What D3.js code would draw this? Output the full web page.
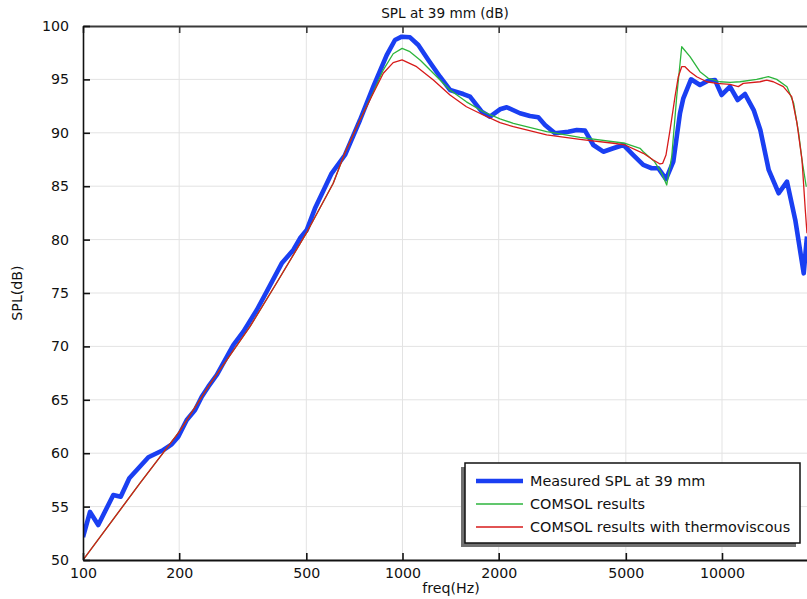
<!DOCTYPE html>
<html>
<head>
<meta charset="utf-8">
<script src="https://cdn.jsdelivr.net/npm/d3@7/dist/d3.min.js"></script>
<style>
  html, body { margin: 0; padding: 0; background: #fff; }
  svg { display: block; font-family: "DejaVu Sans", sans-serif; }
</style>
</head>
<body>
<svg id="chart" width="807" height="599"></svg>
<script>
// Measured SPL at 39 mm (frequency in Hz, level in dB)
const measuredFreq = [100, 105.2, 111.6, 124.4, 131.2, 139.6, 160.2, 178.4, 189.5, 198.7,
  211.2, 224.2, 235.3, 246.7, 262.1, 295.4, 317.6, 349.9, 375.8, 418.8,
  455.2, 477.7, 501.5, 532.3, 600.2, 660.7, 736.2, 810.3, 892.4, 947.3,
  994.3, 1055.6, 1120.7, 1204.5, 1310.4, 1408.2, 1550, 1627, 1770, 1879,
  2019, 2120, 2332, 2506, 2661, 2793, 3001, 3304, 3510, 3726,
  3956, 4251, 4569, 4910, 5278, 5671, 6026, 6319, 6679, 7040,
  7388, 7567, 7998, 8533, 9041, 9507, 9977, 10593, 11196, 11803,
  12567, 13182, 14002, 15046, 15975, 16957, 18020, 18450];
const measuredSPL = [52.15, 54.5, 53.28, 56.09, 55.93, 57.65, 59.62, 60.3, 60.83, 61.55,
  63.11, 64.04, 65.29, 66.23, 67.32, 70.13, 71.38, 73.41, 75.12, 77.78,
  79.03, 80.12, 80.9, 82.93, 86.21, 87.92, 91.2, 94.32, 97.28, 98.69,
  99.0, 98.94, 98.22, 96.82, 95.25, 94.01, 93.63, 93.38, 91.98, 91.51,
  92.2, 92.39, 91.83, 91.57, 91.45, 90.73, 89.95, 90.1, 90.26, 90.2,
  88.86, 88.23, 88.55, 88.86, 87.92, 86.99, 86.68, 86.68, 85.67, 87.3,
  91.83, 93.23, 95.01, 94.48, 94.88, 94.94, 93.54, 94.32, 93.07, 93.63,
  92.13, 90.26, 86.52, 84.34, 85.42, 81.84, 76.84, 80.3];

// COMSOL results
const comsolFreq = [100, 150, 200, 250, 333, 400, 500, 607, 660, 736,
  810, 871, 935, 997, 1055, 1137, 1249, 1408, 1585, 1790,
  2019, 2223, 2827, 3593, 4973, 5539, 5671, 6147, 6477, 6713,
  6960, 7215, 7480, 7941, 8533, 9060, 9855, 10593, 11385, 12840,
  13964, 14833, 15975, 16763, 17378, 17800, 18357];
const comsolSPL = [50.0, 57.1, 62.0, 66.5, 71.85, 75.75, 80.6, 85.27, 88.1, 91.2,
  93.8, 95.9, 97.4, 97.9, 97.6, 96.8, 95.57, 94.0, 92.9, 91.97,
  91.3, 90.89, 90.1, 89.58, 89.02, 88.55, 88.23, 87.3, 86.21, 85.11,
  87.76, 93.38, 98.06, 97.13, 95.72, 95.1, 94.78, 94.73, 94.78, 95.0,
  95.25, 95.0, 94.32, 92.76, 89.95, 87.45, 84.95];

// COMSOL results with thermoviscous losses
const thermoFreq = [100, 150, 200, 250, 333, 400, 500, 607, 660, 736,
  810, 871, 935, 997, 1107, 1249, 1408, 1585, 1790, 2019,
  2223, 2827, 3593, 4571, 4973, 5671, 6095, 6397, 6523, 6679,
  6876, 7128, 7299, 7480, 7661, 7941, 8333, 8955, 9625, 10593,
  11246, 11659, 13150, 13800, 14474, 15556, 16527, 17166, 17800, 18226, 18450];
const thermoSPL = [50.0, 57.1, 62.0, 66.5, 71.85, 75.75, 80.6, 85.27, 88.1, 91.2,
  93.7, 95.57, 96.57, 96.82, 96.19, 94.94, 93.54, 92.44, 91.67, 90.95,
  90.57, 89.8, 89.39, 89.02, 88.86, 88.08, 87.45, 87.08, 87.14, 87.92,
  90.26, 93.38, 95.25, 96.19, 96.19, 95.72, 95.25, 94.78, 94.63, 94.54,
  94.32, 94.63, 94.78, 94.94, 94.78, 94.32, 93.38, 90.9, 87.45, 82.77, 80.6];

const xTicks = [100, 200, 500, 1000, 2000, 5000, 10000];
const yTicks = [50, 55, 60, 65, 70, 75, 80, 85, 90, 95, 100];

const series = [
  { name: "Measured SPL at 39 mm", freq: measuredFreq, spl: measuredSPL, color: "#1a3ff2", width: 4.6 },
  { name: "COMSOL results", freq: comsolFreq, spl: comsolSPL, color: "#2db53c", width: 1.3 },
  { name: "COMSOL results with thermoviscous", freq: thermoFreq, spl: thermoSPL, color: "#d71a1a", width: 1.3 }
];

const svg = d3.select("#chart");
const W = 807, H = 599;
const plotLeft = 83, plotTop = 26, plotBottom = 560;
const perDecade = 319.5;
const plotRight = plotLeft + perDecade * Math.log10(20000 / 100);

const x = d3.scaleLog().domain([100, 20000]).range([plotLeft, plotRight]);
const y = d3.scaleLinear().domain([50, 100]).range([plotBottom, plotTop]);

svg.append("defs").append("clipPath").attr("id", "plotClip")
  .append("rect").attr("x", plotLeft).attr("y", plotTop)
  .attr("width", plotRight - plotLeft).attr("height", plotBottom - plotTop);

// grid
const grid = svg.append("g");
grid.selectAll("line.vx").data(xTicks.slice(1)).join("line")
  .attr("x1", d => x(d)).attr("x2", d => x(d)).attr("y1", plotTop).attr("y2", plotBottom)
  .attr("stroke", "#e3e3e3").attr("stroke-width", 1);
grid.selectAll("line.hy").data(yTicks.slice(1, -1)).join("line")
  .attr("x1", plotLeft).attr("x2", plotRight).attr("y1", d => y(d)).attr("y2", d => y(d))
  .attr("stroke", "#e3e3e3").attr("stroke-width", 1);

// curves: measured first, thin model curves on top
const line = d3.line().x(d => x(d[0])).y(d => y(d[1]));
const curves = svg.append("g").attr("clip-path", "url(#plotClip)");
series.forEach(s => {
  curves.append("path")
    .datum(s.freq.map((f, i) => [f, s.spl[i]]))
    .attr("d", line)
    .attr("fill", "none")
    .attr("stroke", s.color)
    .attr("stroke-width", s.width)
    .attr("stroke-linejoin", "round");
});

// axes
const tickLen = 7;
const xAxisBottom = d3.axisBottom(x).tickValues(xTicks).tickFormat(d3.format("d"))
  .tickSizeInner(-tickLen).tickSizeOuter(0).tickPadding(12);
const gxb = svg.append("g").attr("transform", `translate(0,${plotBottom})`).call(xAxisBottom);
gxb.select(".domain").attr("stroke", "#111").attr("stroke-width", 1.8);
gxb.selectAll(".tick line").attr("stroke", "#111").attr("stroke-width", 1.6);
gxb.selectAll(".tick text").attr("font-size", 14.2).attr("fill", "#111")
  .attr("font-family", "DejaVu Sans").attr("dy", "0.45em");

const xAxisTop = d3.axisTop(x).tickValues(xTicks).tickFormat("")
  .tickSizeInner(-tickLen).tickSizeOuter(0);
const gxt = svg.append("g").attr("transform", `translate(0,${plotTop})`).call(xAxisTop);
gxt.select(".domain").attr("stroke", "#3a3a3a").attr("stroke-width", 2.2);
gxt.selectAll(".tick line").attr("stroke", "#3a3a3a").attr("stroke-width", 1.6);

const yAxis = d3.axisLeft(y).tickValues(yTicks).tickFormat(d3.format("d"))
  .tickSizeInner(-tickLen).tickSizeOuter(0).tickPadding(14);
const gy = svg.append("g").attr("transform", `translate(${plotLeft},0)`).call(yAxis);
gy.select(".domain").attr("stroke", "#111").attr("stroke-width", 1.6);
gy.selectAll(".tick line").attr("stroke", "#111").attr("stroke-width", 1.6);
gy.selectAll(".tick text").attr("font-size", 14.2).attr("fill", "#111").attr("font-family", "DejaVu Sans");

// titles
svg.append("text").attr("x", (plotLeft + W) / 2).attr("y", 18).attr("text-anchor", "middle")
  .attr("font-size", 13.6).attr("fill", "#111").text("SPL at 39 mm (dB)");
svg.append("text").attr("x", 451).attr("y", 593).attr("text-anchor", "middle")
  .attr("font-size", 14.2).attr("fill", "#111").text("freq(Hz)");
svg.append("text").attr("transform", "translate(22,293) rotate(-90)").attr("text-anchor", "middle")
  .attr("font-size", 14.2).attr("fill", "#111").text("SPL(dB)");

// legend
const lg = svg.append("g").attr("transform", "translate(465,463)");
const lw = 335, lh = 80;
lg.append("rect").attr("x", -4).attr("y", 4).attr("width", lw).attr("height", lh).attr("fill", "#707070");
lg.append("rect").attr("x", 0).attr("y", 0).attr("width", lw).attr("height", lh)
  .attr("fill", "#fff").attr("stroke", "#111").attr("stroke-width", 1.5);
series.forEach((s, i) => {
  const ry = 18 + i * 23;
  lg.append("line").attr("x1", 11).attr("x2", 58).attr("y1", ry).attr("y2", ry)
    .attr("stroke", s.color).attr("stroke-width", s.width);
  lg.append("text").attr("x", 65).attr("y", ry).attr("dy", "0.36em")
    .attr("font-size", 14.4).attr("fill", "#111").text(s.name);
});
</script>
</body>
</html>
